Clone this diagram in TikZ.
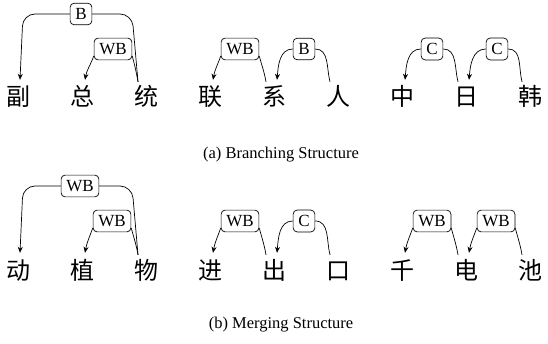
\documentclass[tikz,border=0pt]{standalone}
\usepackage{fontspec}
\setmainfont{Liberation Serif}
\newfontfamily\hanzi{Noto Sans CJK SC}
\usetikzlibrary{arrows.meta,calc}

\tikzset{
  hz/.style={font=\hanzi\fontsize{24}{24}\selectfont, inner sep=0pt, text height=22pt, text depth=2pt, anchor=base},
  tag/.style={draw, rounded corners=4pt, line width=0.7pt, inner sep=5.2pt, font=\fontsize{17}{17}\selectfont},
  dep/.style={line width=0.7pt, -{Stealth[length=6pt,width=5pt]}},
  gov/.style={line width=0.7pt},
  subcap/.style={font=\fontsize{16.5}{18}\selectfont}
}

\begin{document}
\begin{tikzpicture}[x=1pt,y=1pt]
  \useasboundingbox (0,0) rectangle (548,343);

  % Branching: characters
  \node[hz] (a1) at (18,237) {副};
  \node[hz] (a2) at (82,237) {总};
  \node[hz] (a3) at (146,237) {统};
  \node[hz] (a4) at (210,237) {联};
  \node[hz] (a5) at (274,237) {系};
  \node[hz] (a6) at (338,237) {人};
  \node[hz] (a7) at (402,237) {中};
  \node[hz] (a8) at (466,237) {日};
  \node[hz] (a9) at (530,237) {韩};

  % Branching: relation tags
  \node[tag] (l1) at (81,329) {B};
  \node[tag] (l2) at (113,294) {WB};
  \node[tag] (l3) at (240,294) {WB};
  \node[tag] (l4) at (304,294) {B};
  \node[tag] (l5) at (432,294) {C};
  \node[tag] (l6) at (497,294) {C};

  \draw[dep,rounded corners=12pt] (l1.west) -- ($(l1.west -| a1.north)+(5,0)$) -- ([xshift=2pt,yshift=4pt]a1.north);
  \draw[gov,rounded corners=12pt] (l1.east) -- ($(l1.east -| a3.north)+(-14,0)$) -- ([xshift=-8pt,yshift=2pt]a3.north);
  \draw[dep] (l2.-160) to[out=250,in=80] ([xshift=3pt,yshift=4pt]a2.north);
  \draw[gov] (l2.-20) to[out=-75,in=100] ([xshift=-8pt,yshift=2pt]a3.north);
  \draw[dep] (l3.-160) to[out=250,in=80] ([xshift=3pt,yshift=4pt]a4.north);
  \draw[gov] (l3.-20) to[out=-75,in=100] ([xshift=-8pt,yshift=2pt]a5.north);
  \draw[dep] (l4.west) to[out=180,in=85] ([xshift=3pt,yshift=4pt]a5.north);
  \draw[gov] (l4.east) to[out=0,in=105] ([xshift=-8pt,yshift=2pt]a6.north);
  \draw[dep] (l5.west) to[out=180,in=85] ([xshift=3pt,yshift=4pt]a7.north);
  \draw[gov] (l5.east) to[out=0,in=105] ([xshift=-8pt,yshift=2pt]a8.north);
  \draw[dep] (l6.west) to[out=180,in=85] ([xshift=3pt,yshift=4pt]a8.north);
  \draw[gov] (l6.east) to[out=0,in=105] ([xshift=-8pt,yshift=2pt]a9.north);

  \node[subcap] (capa) at (281,188) {(a) Branching Structure};

  % Merging: characters
  \node[hz] (b1) at (18,64) {动};
  \node[hz] (b2) at (82,64) {植};
  \node[hz] (b3) at (146,64) {物};
  \node[hz] (b4) at (210,64) {进};
  \node[hz] (b5) at (274,64) {出};
  \node[hz] (b6) at (338,64) {口};
  \node[hz] (b7) at (402,64) {千};
  \node[hz] (b8) at (466,64) {电};
  \node[hz] (b9) at (530,64) {池};

  % Merging: relation tags
  \node[tag] (m1) at (80,157) {WB};
  \node[tag] (m2) at (112,122) {WB};
  \node[tag] (m3) at (240,122) {WB};
  \node[tag] (m4) at (304,122) {C};
  \node[tag] (m5) at (432,122) {WB};
  \node[tag] (m6) at (496,122) {WB};

  \draw[dep,rounded corners=12pt] (m1.west) -- ($(m1.west -| b1.north)+(5,0)$) -- ([xshift=2pt,yshift=4pt]b1.north);
  \draw[gov,rounded corners=12pt] (m1.east) -- ($(m1.east -| b3.north)+(-14,0)$) -- ([xshift=-8pt,yshift=2pt]b3.north);
  \draw[dep] (m2.-160) to[out=250,in=80] ([xshift=3pt,yshift=4pt]b2.north);
  \draw[gov] (m2.-20) to[out=-75,in=100] ([xshift=-8pt,yshift=2pt]b3.north);
  \draw[dep] (m3.-160) to[out=250,in=80] ([xshift=3pt,yshift=4pt]b4.north);
  \draw[gov] (m3.-20) to[out=-75,in=100] ([xshift=-8pt,yshift=2pt]b5.north);
  \draw[dep] (m4.west) to[out=180,in=85] ([xshift=3pt,yshift=4pt]b5.north);
  \draw[gov] (m4.east) to[out=0,in=105] ([xshift=-8pt,yshift=2pt]b6.north);
  \draw[dep] (m5.-160) to[out=250,in=80] ([xshift=3pt,yshift=4pt]b7.north);
  \draw[gov] (m5.-20) to[out=-75,in=100] ([xshift=-8pt,yshift=2pt]b8.north);
  \draw[dep] (m6.-160) to[out=250,in=80] ([xshift=3pt,yshift=4pt]b8.north);
  \draw[gov] (m6.-20) to[out=-75,in=100] ([xshift=-8pt,yshift=2pt]b9.north);

  \node[subcap] (capb) at (281,18) {(b) Merging Structure};
\end{tikzpicture}
\end{document}
